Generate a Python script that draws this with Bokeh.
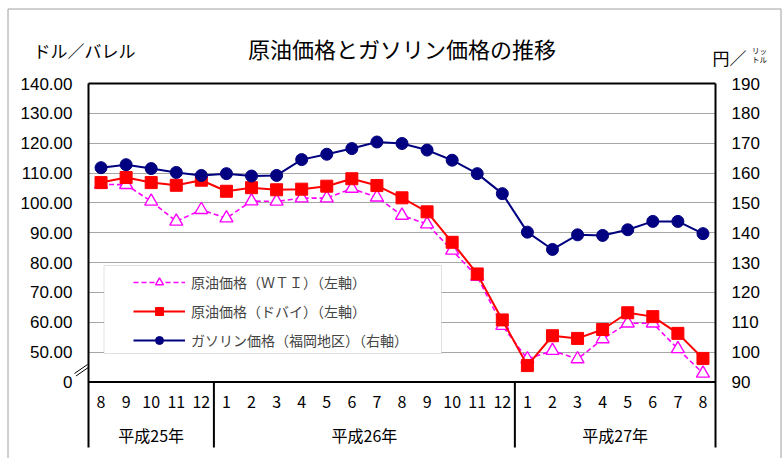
from bokeh.plotting import figure
from bokeh.models import Range1d, LinearAxis, FixedTicker, Legend, LegendItem, BoxAnnotation, Grid
from bokeh.core.properties import value
from bokeh.embed import file_html
from bokeh.resources import INLINE

# ---------------- data ----------------
months = [8, 9, 10, 11, 12, 1, 2, 3, 4, 5, 6, 7, 8, 9, 10, 11, 12, 1, 2, 3, 4, 5, 6, 7, 8]
years = ["平成25年", "平成26年", "平成27年"]
year_counts = [5, 12, 8]

wti = [106.2, 106.1, 100.5, 93.8, 97.7, 94.9, 100.6, 100.5, 101.6, 101.6, 104.8, 101.9, 95.8,
       92.9, 84.1, 75.3, 58.9, 47.7, 50.5, 47.7, 54.4, 59.7, 59.7, 51.1, 42.9]
dubai = [106.8, 108.5, 106.8, 105.9, 107.6, 103.9, 105.1, 104.4, 104.6, 105.6, 108.1, 105.8, 101.7,
         97.0, 86.8, 76.2, 60.8, 45.5, 55.5, 54.6, 57.6, 63.2, 61.9, 56.3, 47.9]
gasoline = [161.8, 162.8, 161.5, 160.2, 159.2, 159.8, 159.0, 159.2, 164.5, 166.3, 168.2, 170.4, 169.9,
            167.7, 164.3, 159.8, 153.1, 140.2, 134.4, 139.3, 139.1, 141.0, 143.8, 143.8, 139.7]

left_ticks = [40, 50, 60, 70, 80, 90, 100, 110, 120, 130, 140]
left_labels = ["0", "50.00", "60.00", "70.00", "80.00", "90.00", "100.00", "110.00", "120.00", "130.00", "140.00"]
right_ticks = [90, 100, 110, 120, 130, 140, 150, 160, 170, 180, 190]
grid_ticks = [50, 60, 70, 80, 90, 100, 110, 120, 130]

label_wti = "原油価格（ＷＴＩ）（左軸）"
label_dubai = "原油価格（ドバイ）（左軸）"
label_gas = "ガソリン価格（福岡地区）（右軸）"
title_text = "原油価格とガソリン価格の推移"
left_unit = "ドル／バレル"
right_unit = "円／"
right_unit_small = ["リッ", "トル"]

JP = "Noto Sans CJK JP"
NUM = "Liberation Sans"

# ---------------- layout (canvas pixels) ----------------
W, H = 782, 458
FL, FR, FT, FB = 88, 715, 83, 447
Y40 = 381.5
n = len(months)
KX = (FR - FL) / n
KY = (Y40 - FT) / 100.0


def X(px):
    return -0.5 + (px - FL) / KX


def Y(py):
    return 140 - (py - FT) / KY


ystart = Y(FB)

p = figure(width=W, height=H, output_backend="svg", toolbar_location=None,
           x_axis_location=None, y_axis_location=None,
           x_range=Range1d(-0.5, n - 0.5), y_range=Range1d(ystart, 140),
           min_border_left=FL, min_border_right=W - FR,
           min_border_top=FT, min_border_bottom=H - FB,
           background_fill_color="white", border_fill_color="white")
p.outline_line_color = None
p.grid.visible = False
p.extra_y_ranges = {"right": Range1d(ystart + 50, 190)}

# axes
la = LinearAxis(ticker=FixedTicker(ticks=left_ticks),
                major_label_overrides={t: l for t, l in zip(left_ticks, left_labels)})
ra = LinearAxis(y_range_name="right", ticker=FixedTicker(ticks=right_ticks))
for ax in (la, ra):
    ax.axis_line_color = None
    ax.major_tick_line_color = None
    ax.minor_tick_line_color = None
    ax.major_tick_out = 0
    ax.major_label_standoff = 16
    ax.major_label_text_font = NUM
    ax.major_label_text_font_size = "17px"
    ax.major_label_text_color = "black"
p.add_layout(la, "left")
p.add_layout(ra, "right")

g = Grid(dimension=1, ticker=FixedTicker(ticks=grid_ticks), grid_line_color="#a6a6a6", grid_line_width=1)
p.add_layout(g, "center")

xs = list(range(n))

# series
r_wti_l = p.line(xs, wti, line_color="#FF00FF", line_width=1.6, line_dash="5 3")
r_wti_m = p.scatter(xs, wti, marker="triangle", size=13, line_color="#FF00FF", line_width=1.4,
                    fill_color="white")
r_dub_l = p.line(xs, dubai, line_color="#FF0000", line_width=2)
r_dub_m = p.scatter(xs, dubai, marker="square", size=12, line_color="#FF0000", fill_color="#FF0000")
r_gas_l = p.line(xs, gasoline, line_color="#000080", line_width=2, y_range_name="right")
r_gas_m = p.scatter(xs, gasoline, marker="circle", size=12, line_color="#000080", fill_color="#000080",
                    y_range_name="right")

# frame and table lines
seg_x0 = [-0.5, -0.5, n - 0.5, -0.5]
seg_y0 = [140, ystart, ystart, 40]
seg_x1 = [n - 0.5, -0.5, n - 0.5, n - 0.5]
seg_y1 = [140, 140, 140, 40]
pos = -0.5
for c in year_counts[:-1]:
    pos += c
    seg_x0.append(pos); seg_y0.append(ystart); seg_x1.append(pos); seg_y1.append(40)
p.segment(seg_x0, seg_y0, seg_x1, seg_y1, line_color="black", line_width=2, level="overlay")

# outer border (light gray)
p.segment([X(7.5), X(7.5), X(780.5)], [Y(8.5), Y(8.5), Y(8.5)], [X(780.5), X(7.5), X(780.5)],
          [Y(8.5), Y(H), Y(H)], line_color="#a0a0a0", line_width=1, level="overlay")

# axis break mark
p.segment([X(74), X(75.5)], [Y(373), Y(375.5)], [X(87), X(88.5)], [Y(364), Y(366.5)],
          line_color="black", line_width=1, level="overlay")

# month labels
p.text(xs, [Y(401)] * n, text=[str(m) for m in months], text_align="center", text_baseline="middle",
       text_font=value(JP), text_font_size="16px", text_color="black")
# year labels
centers = []
start = 0
for c in year_counts:
    centers.append(start + (c - 1) / 2)
    start += c
p.text(centers, [Y(434)] * len(years), text=years, text_align="center", text_baseline="middle",
       text_font=value(JP), text_font_size="16px", text_color="black")

# legend box
box = BoxAnnotation(left=X(103.5), right=X(441), top=Y(265), bottom=Y(353),
                    fill_color="white", fill_alpha=1, line_color="#a0a0a0", line_width=1)
p.add_layout(box)
legend = Legend(items=[LegendItem(label=label_wti, renderers=[r_wti_l, r_wti_m]),
                       LegendItem(label=label_dubai, renderers=[r_dub_l, r_dub_m]),
                       LegendItem(label=label_gas, renderers=[r_gas_l, r_gas_m])],
                location=(45, 97), border_line_color=None, background_fill_alpha=0,
                padding=0, margin=0, glyph_width=52, glyph_height=20, label_height=20,
                spacing=9, label_standoff=6, label_text_font=JP, label_text_font_size="14px")
p.add_layout(legend)

# titles / units (drawn above the frame, not clipped)
def note(px, py, txt, size, align):
    p.text([X(px)], [Y(py)], text=[txt], text_align=align, text_baseline="middle",
           text_font=value(JP), text_font_size=size, text_color="black", level="overlay")


note((FL + FR) / 2, 47, title_text, "22px", "center")
note(33, 50, left_unit, "17px", "left")
note(712, 57, right_unit, "17px", "left")
note(759, 50, right_unit_small[0], "7.5px", "center")
note(759, 59, right_unit_small[1], "7.5px", "center")

open("out.html", "w").write(file_html(p, INLINE))
